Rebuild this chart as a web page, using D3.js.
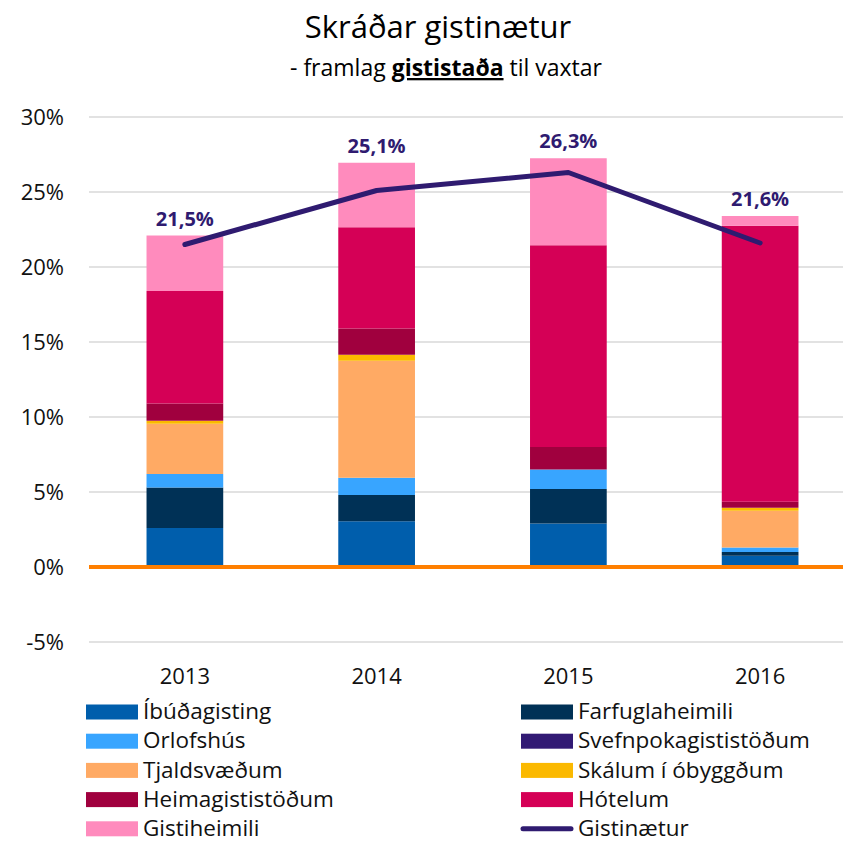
<!DOCTYPE html>
<html>
<head>
<meta charset="utf-8">
<script src="https://cdn.jsdelivr.net/npm/d3@7"></script>
<style>
  body { margin: 0; background: #fff; }
  svg text { font-family: "Open Sans", Lato, sans-serif; }
</style>
</head>
<body>
<div id="chart"></div>
<script>
// ---- data (percent) ----
const years = ['2013', '2014', '2015', '2016'];
const ibudagisting = [2.6, 3.05, 2.9, 0.75];
const farfuglaheimili = [2.7, 1.75, 2.3, 0.25];
const orlofshus = [0.9, 1.15, 1.3, 0.3];
const svefnpoka = [0, 0, 0, 0];
const tjaldsvaedum = [3.35, 7.8, 0, 2.45];
const skalum = [0.2, 0.4, 0, 0.2];
const heimagisting = [1.15, 1.75, 1.5, 0.4];
const hotelum = [7.5, 6.75, 13.45, 18.4];
const gistiheimili = [3.7, 4.3, 5.8, 0.65];
const gistinaetur = [21.5, 25.1, 26.3, 21.6];
const yTicks = [-5, 0, 5, 10, 15, 20, 25, 30];

const series = [
  { name: 'Íbúðagisting', values: ibudagisting, color: '#005EAC' },
  { name: 'Farfuglaheimili', values: farfuglaheimili, color: '#003156' },
  { name: 'Orlofshús', values: orlofshus, color: '#38A5FF' },
  { name: 'Svefnpokagististöðum', values: svefnpoka, color: '#321A74' },
  { name: 'Tjaldsvæðum', values: tjaldsvaedum, color: '#FFAA64' },
  { name: 'Skálum í óbyggðum', values: skalum, color: '#FBB900' },
  { name: 'Heimagististöðum', values: heimagisting, color: '#A0003E' },
  { name: 'Hótelum', values: hotelum, color: '#D50056' },
  { name: 'Gistiheimili', values: gistiheimili, color: '#FF8BBD' }
];
const lineColor = '#2F1B70';

const width = 843, height = 842;
const svg = d3.select('#chart').append('svg')
    .attr('width', width)
    .attr('height', height);

const x = d3.scaleBand().domain(years).range([89, 856])
    .paddingInner(0.6).paddingOuter(0.3);
const y = d3.scaleLinear().domain([-5, 30]).range([642, 117]);

// titles
svg.append('text')
    .attr('x', 438).attr('y', 38)
    .attr('text-anchor', 'middle')
    .attr('font-size', 31)
    .text('Skráðar gistinætur');
const sub = svg.append('text')
    .attr('x', 446).attr('y', 76)
    .attr('text-anchor', 'middle')
    .attr('font-size', 23);
sub.append('tspan').text('- framlag ');
sub.append('tspan').attr('font-weight', 'bold').attr('text-decoration', 'underline').text('gististaða');
sub.append('tspan').text(' til vaxtar');

// grid
svg.selectAll('line.grid')
    .data(yTicks)
    .enter()
    .append('line')
    .attr('class', 'grid')
    .attr('x1', 89).attr('x2', 843)
    .attr('y1', d => y(d)).attr('y2', d => y(d))
    .style('stroke', '#d9d9d9')
    .style('stroke-width', 1.3);

// y labels
svg.selectAll('text.ytick')
    .data(yTicks)
    .enter()
    .append('text')
    .attr('class', 'ytick')
    .attr('x', 64)
    .attr('y', d => y(d))
    .attr('dy', '0.36em')
    .attr('text-anchor', 'end')
    .attr('font-size', 22)
    .attr('fill', '#111')
    .text(d => d + '%');

// x labels
svg.selectAll('text.xtick')
    .data(years)
    .enter()
    .append('text')
    .attr('class', 'xtick')
    .attr('x', d => x(d) + x.bandwidth() / 2)
    .attr('y', 684)
    .attr('text-anchor', 'middle')
    .attr('font-size', 22)
    .attr('fill', '#111')
    .text(d => d);

// stacked bars
const rows = years.map((yr, i) => {
    const r = { year: yr };
    series.forEach(s => { r[s.name] = s.values[i]; });
    return r;
});
const stack = d3.stack().keys(series.map(s => s.name));
const layers = stack(rows);

svg.selectAll('g.layer')
    .data(layers)
    .enter()
    .append('g')
    .attr('class', 'layer')
    .attr('fill', (d, i) => series[i].color)
    .selectAll('rect')
    .data(d => d)
    .enter()
    .append('rect')
    .attr('x', d => x(d.data.year))
    .attr('width', x.bandwidth())
    .attr('y', d => y(d[1]))
    .attr('height', d => y(d[0]) - y(d[1]));

// zero line
svg.append('line')
    .attr('x1', 89).attr('x2', 843)
    .attr('y1', y(0)).attr('y2', y(0))
    .style('stroke', '#FF7F00')
    .style('stroke-width', 4);

// total line
const line = d3.line()
    .x((d, i) => x(years[i]) + x.bandwidth() / 2)
    .y(d => y(d));
svg.append('path')
    .datum(gistinaetur)
    .attr('d', line)
    .style('fill', 'none')
    .style('stroke', lineColor)
    .style('stroke-width', 5)
    .style('stroke-linecap', 'round')
    .style('stroke-linejoin', 'round');

// data labels above bars
const totals = layers[layers.length - 1].map(d => d[1]);
svg.selectAll('text.lbl')
    .data(gistinaetur)
    .enter()
    .append('text')
    .attr('class', 'lbl')
    .attr('x', (d, i) => x(years[i]) + x.bandwidth() / 2)
    .attr('y', (d, i) => y(totals[i]) - 17)
    .attr('dy', '0.36em')
    .attr('text-anchor', 'middle')
    .attr('font-size', 20)
    .attr('font-weight', 'bold')
    .attr('fill', lineColor)
    .text(d => d.toFixed(1).replace('.', ',') + '%');

// legend
const legendItems = series.map(s => ({ name: s.name, color: s.color, type: 'rect' }));
legendItems.push({ name: 'Gistinætur', color: lineColor, type: 'line' });
const leg = svg.selectAll('g.leg')
    .data(legendItems)
    .enter()
    .append('g')
    .attr('class', 'leg')
    .attr('transform', (d, i) => `translate(${i % 2 === 0 ? 86 : 521},${712 + Math.floor(i / 2) * 29.2})`);
leg.filter(d => d.type === 'rect')
    .append('rect')
    .attr('x', 0).attr('y', -7.5)
    .attr('width', 52).attr('height', 15)
    .attr('fill', d => d.color);
leg.filter(d => d.type === 'line')
    .append('line')
    .attr('x1', 2).attr('x2', 50)
    .attr('y1', 0).attr('y2', 0)
    .style('stroke', d => d.color)
    .style('stroke-width', 5)
    .style('stroke-linecap', 'round');
leg.append('text')
    .attr('x', 57)
    .attr('y', 0)
    .attr('dy', '0.32em')
    .attr('font-size', 22.5)
    .attr('fill', '#111')
    .text(d => d.name);
</script>
</body>
</html>
